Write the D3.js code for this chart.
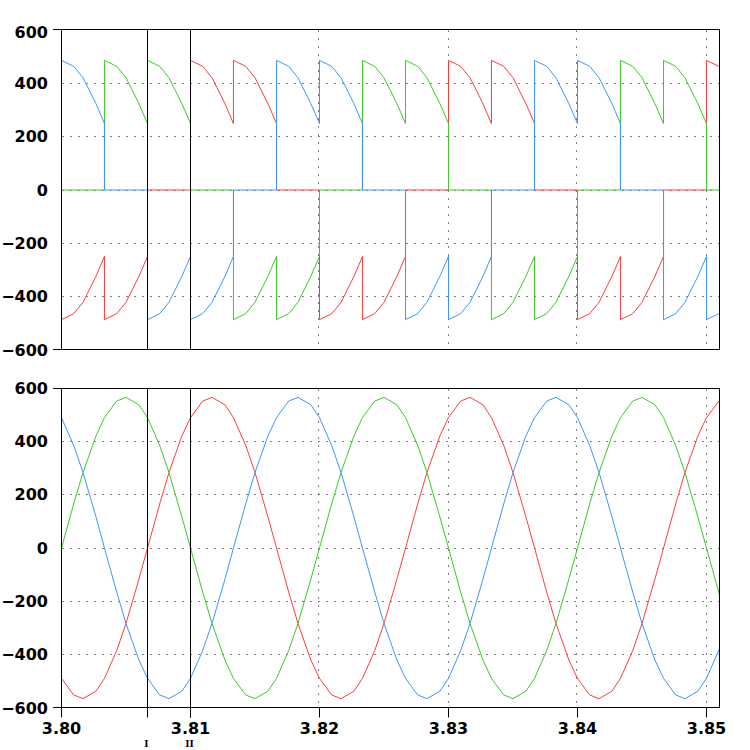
<!DOCTYPE html>
<html><head><meta charset="utf-8">
<script src="https://cdn.jsdelivr.net/npm/d3@7"></script>
<style>html,body{margin:0;padding:0;background:#fff;} svg{display:block;}</style>
</head><body>
<svg id="chart" width="750" height="750"></svg>
<script>
// ---------- DATA ----------
// Top panel: sample times (duplicated at switching instants)
const tTop = [
  3.80000,3.80094,3.80167,3.80267,3.80333,
  3.80333,3.80428,3.80500,3.80600,3.80667,
  3.80667,3.80761,3.80833,3.80933,3.81000,
  3.81000,3.81094,3.81167,3.81267,3.81333,
  3.81333,3.81428,3.81500,3.81600,3.81667,
  3.81667,3.81761,3.81833,3.81933,3.82000,
  3.82000,3.82094,3.82167,3.82267,3.82333,
  3.82333,3.82428,3.82500,3.82600,3.82667,
  3.82667,3.82761,3.82833,3.82933,3.83000,
  3.83000,3.83094,3.83167,3.83267,3.83333,
  3.83333,3.83428,3.83500,3.83600,3.83667,
  3.83667,3.83761,3.83833,3.83933,3.84000,
  3.84000,3.84094,3.84167,3.84267,3.84333,
  3.84333,3.84428,3.84500,3.84600,3.84667,
  3.84667,3.84761,3.84833,3.84933,3.85000,
  3.85000,3.85100
];
const topRed = [
  -486,-464,-421,-324,-249,  -486,-464,-421,-324,-249,  0,0,0,0,0,
  486,464,421,324,249,  486,464,421,324,249,  0,0,0,0,0,
  -486,-464,-421,-324,-249,  -486,-464,-421,-324,-249,  0,0,0,0,0,
  486,464,421,324,249,  486,464,421,324,249,  0,0,0,0,0,
  -486,-464,-421,-324,-249,  -486,-464,-421,-324,-249,  0,0,0,0,0,
  486,463
];
const topGreen = [
  0,0,0,0,0,  486,464,421,324,249,  486,464,421,324,249,
  0,0,0,0,0,  -486,-464,-421,-324,-249,  -486,-464,-421,-324,-249,
  0,0,0,0,0,  486,464,421,324,249,  486,464,421,324,249,
  0,0,0,0,0,  -486,-464,-421,-324,-249,  -486,-464,-421,-324,-249,
  0,0,0,0,0,  486,464,421,324,249,  486,464,421,324,249,
  0,0
];
const topBlue = [
  486,464,421,324,249,  0,0,0,0,0,  -486,-464,-421,-324,-249,
  -486,-464,-421,-324,-249,  0,0,0,0,0,  486,464,421,324,249,
  486,464,421,324,249,  0,0,0,0,0,  -486,-464,-421,-324,-249,
  -486,-464,-421,-324,-249,  0,0,0,0,0,  486,464,421,324,249,
  486,464,421,324,249,  0,0,0,0,0,  -486,-464,-421,-324,-249,
  -486,-463
];

// Bottom panel: sample times
const tBot = [
  3.80000,3.80094,3.80167,3.80267, 3.80333,3.80428,3.80500,3.80600,
  3.80667,3.80761,3.80833,3.80933, 3.81000,3.81094,3.81167,3.81267,
  3.81333,3.81428,3.81500,3.81600, 3.81667,3.81761,3.81833,3.81933,
  3.82000,3.82094,3.82167,3.82267, 3.82333,3.82428,3.82500,3.82600,
  3.82667,3.82761,3.82833,3.82933, 3.83000,3.83094,3.83167,3.83267,
  3.83333,3.83428,3.83500,3.83600, 3.83667,3.83761,3.83833,3.83933,
  3.84000,3.84094,3.84167,3.84267, 3.84333,3.84428,3.84500,3.84600,
  3.84667,3.84761,3.84833,3.84933, 3.85000,3.85100
];
const botGreen = [
  0,165,283,420, 489,551,565,537, 489,385,283,117,
  0,-165,-283,-420, -489,-551,-565,-537, -489,-385,-283,-117,
  0,165,283,420, 489,551,565,537, 489,385,283,117,
  0,-165,-283,-420, -489,-551,-565,-537, -489,-385,-283,-117,
  0,165,283,420, 489,551,565,537, 489,385,283,117,
  0,-175
];
const botBlue = [
  489,385,283,117, 0,-165,-283,-420, -489,-551,-565,-537,
  -489,-385,-283,-117, 0,165,283,420, 489,551,565,537,
  489,385,283,117, 0,-165,-283,-420, -489,-551,-565,-537,
  -489,-385,-283,-117, 0,165,283,420, 489,551,565,537,
  489,385,283,117, 0,-165,-283,-420, -489,-551,-565,-537,
  -489,-378
];
const botRed = [
  -489,-551,-565,-537, -489,-385,-283,-117, 0,165,283,420,
  489,551,565,537, 489,385,283,117, 0,-165,-283,-420,
  -489,-551,-565,-537, -489,-385,-283,-117, 0,165,283,420,
  489,551,565,537, 489,385,283,117, 0,-165,-283,-420,
  -489,-551,-565,-537, -489,-385,-283,-117, 0,165,283,420,
  489,553
];

const yTicks = [600,400,200,0,-200,-400,-600];
const yGrid = [400,200,0,-200,-400];
const xTicks = [3.80,3.81,3.82,3.83,3.84,3.85];
const xTickLabels = ["3.80","3.81","3.82","3.83","3.84","3.85"];
const xGrid = [3.82,3.83,3.84,3.85];
const markerTimes = [3.80667, 3.81];
const markerLabels = ["I","II"];
const seriesColors = {red:"#ff3b3b", green:"#3cc828", blue:"#3b94ff"};

// ---------- CHART ----------
const svg = d3.select("#chart");
const x = d3.scaleLinear().domain([3.80, 3.851]).range([61, 718.9]);
const left = 61.5, right = 719.5;
const snap = v => Math.floor(v) + 0.5;

const panels = [
  {y: d3.scaleLinear().domain([-600,600]).range([350,30]), top:29.5, bottom:349.5,
   t:tTop, series:[["red",topRed],["green",topGreen],["blue",topBlue]], markerExtra:0, topShift:2.5},
  {y: d3.scaleLinear().domain([-600,600]).range([708,388]), top:388.5, bottom:707.5,
   t:tBot, series:[["red",botRed],["green",botGreen],["blue",botBlue]], markerExtra:10, topShift:0}
];

const font = "'DejaVu Sans', Verdana, sans-serif";

panels.forEach((p, pi) => {
  const g = svg.append("g");
  const clipId = "clip" + pi;
  svg.append("clipPath").attr("id", clipId).append("rect")
    .attr("x", left).attr("y", p.top).attr("width", right-left).attr("height", p.bottom-p.top);

  // horizontal dotted grid
  g.selectAll(".hg").data(yGrid).enter().append("line")
    .attr("x1", left+1).attr("x2", right)
    .attr("y1", d => snap(p.y(d))).attr("y2", d => snap(p.y(d)))
    .attr("stroke", "#000").attr("stroke-width", 1).attr("stroke-dasharray", "1,7");
  // vertical dotted grid
  g.selectAll(".vg").data(xGrid).enter().append("line")
    .attr("x1", d => snap(x(d))).attr("x2", d => snap(x(d)))
    .attr("y1", p.top+1).attr("y2", p.bottom)
    .attr("stroke", "#000").attr("stroke-width", 1).attr("stroke-dasharray", "1,7");

  // data lines
  const line = d3.line().x((d,i) => x(p.t[i])).y(d => p.y(d));
  const dg = g.append("g").attr("clip-path", `url(#${clipId})`).attr("transform","translate(0.5,0)");
  p.series.forEach(([name, vals]) => {
    dg.append("path").datum(vals).attr("d", line)
      .attr("fill", "none").attr("stroke", seriesColors[name]).attr("stroke-width", 1);
  });

  // frame
  g.append("rect").attr("x", left).attr("y", p.top)
    .attr("width", right-left).attr("height", p.bottom-p.top)
    .attr("fill", "none").attr("stroke", "#000").attr("stroke-width", 1);
  // small left extensions at +-600
  [p.top, p.bottom].forEach(yy => {
    g.append("line").attr("x1", 53).attr("x2", left).attr("y1", yy).attr("y2", yy)
      .attr("stroke", "#000").attr("stroke-width", 1);
  });

  // marker lines
  g.selectAll(".mk").data(markerTimes).enter().append("line")
    .attr("x1", d => snap(x(d))).attr("x2", d => snap(x(d)))
    .attr("y1", p.top).attr("y2", p.bottom + p.markerExtra)
    .attr("stroke", "#000").attr("stroke-width", 1);

  // y axis labels
  const ya = g.append("g").attr("transform", `translate(${left-0.5},0)`)
    .call(d3.axisLeft(p.y).tickValues(yTicks).tickSize(0).tickPadding(13).tickFormat(d3.format("d")));
  ya.select(".domain").remove();
  ya.selectAll("text").attr("font-family", font).attr("font-weight", "bold")
    .attr("font-size", "16px").attr("fill", "#000");
  ya.selectAll(".tick").filter(d => d === 600).select("text").attr("y", p.topShift);
});

// bottom x axis
const xa = svg.append("g").attr("transform", "translate(0,707.5)")
  .call(d3.axisBottom(x).tickValues(xTicks).tickSize(10).tickPadding(5)
    .tickFormat((d,i) => xTickLabels[i]));
xa.select(".domain").remove();
xa.selectAll("line").attr("stroke", "#000");
xa.selectAll("text").attr("font-family", font).attr("font-weight", "bold")
  .attr("font-size", "16px").attr("fill", "#000");

// marker labels
svg.selectAll(".ml").data(markerTimes).enter().append("text")
  .attr("x", d => snap(x(d)) - 1).attr("y", 747)
  .attr("text-anchor", "middle")
  .attr("font-family", "'Liberation Serif', 'Times New Roman', serif")
  .attr("font-weight", "bold").attr("font-size", "11px").attr("fill", "#000")
  .text((d,i) => markerLabels[i]);
</script>
</body></html>
